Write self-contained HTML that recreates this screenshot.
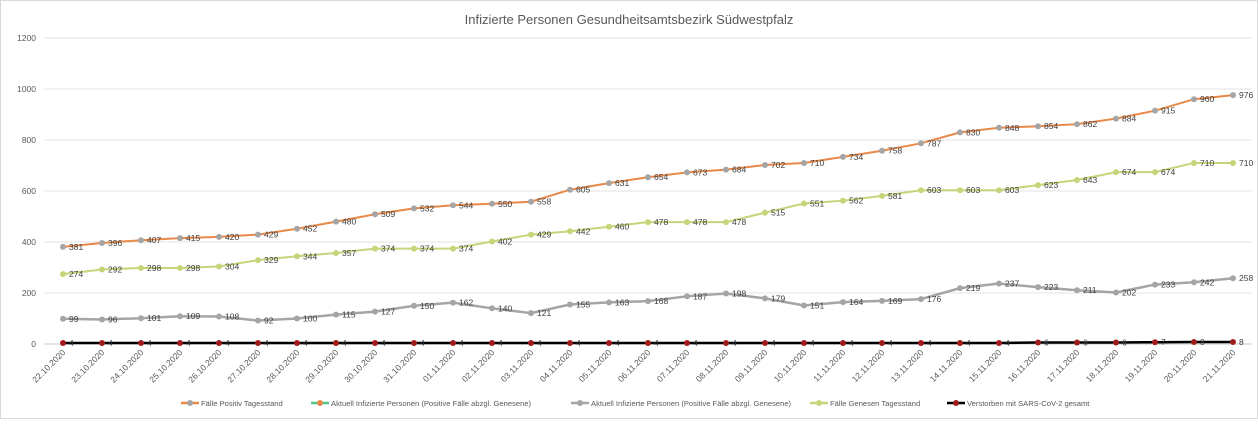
<!DOCTYPE html>
<html><head><meta charset="utf-8"><style>
body{margin:0;background:#fff;font-family:"Liberation Sans",sans-serif}
svg text{font-family:"Liberation Sans",sans-serif}
</style></head><body>
<svg id="c" width="1258" height="419">
<rect x="0.5" y="0.5" width="1257" height="418" fill="#fff" stroke="#d9d9d9"/>
<text x="629" y="24" text-anchor="middle" font-size="13" fill="#595959">Infizierte Personen Gesundheitsamtsbezirk Südwestpfalz</text>
<g id="grid"></g><g id="series"></g><g id="xl"></g>
<g id="legend" font-size="7.6" fill="#595959"></g>
</svg>
<script>
const dates=["22.10.2020","23.10.2020","24.10.2020","25.10.2020","26.10.2020","27.10.2020","28.10.2020","29.10.2020","30.10.2020","31.10.2020","01.11.2020","02.11.2020","03.11.2020","04.11.2020","05.11.2020","06.11.2020","07.11.2020","08.11.2020","09.11.2020","10.11.2020","11.11.2020","12.11.2020","13.11.2020","14.11.2020","15.11.2020","16.11.2020","17.11.2020","18.11.2020","19.11.2020","20.11.2020","21.11.2020"];
const positiv=[381,396,407,415,420,429,452,480,509,532,544,550,558,605,631,654,673,684,702,710,734,758,787,830,848,854,862,884,915,960,976];
const genesen=[274,292,298,298,304,329,344,357,374,374,374,402,429,442,460,478,478,478,515,551,562,581,603,603,603,623,643,674,674,710,710];
const aktuell=[99,96,101,109,108,92,100,115,127,150,162,140,121,155,163,168,187,198,179,151,164,169,176,219,237,223,211,202,233,242,258];
const verstorben=[4,4,4,4,4,4,4,4,4,4,4,4,4,4,4,4,4,4,4,4,4,4,4,4,4,6,6,6,7,8,8];
const yTicks=[0,200,400,600,800,1000,1200];
const NS="http://www.w3.org/2000/svg";
const X=i=>63+i*39, Y=v=>344-v*(306/1200);
function mk(p,t,a){const e=document.createElementNS(NS,t);for(const k in a)e.setAttribute(k,a[k]);p.appendChild(e);return e;}
const grid=document.getElementById('grid');
yTicks.forEach(v=>{
 const l=mk(grid,'line',{x1:44,x2:1252,y1:Y(v),y2:Y(v),stroke:v?'#e3e3e3':'#c8c8c8','stroke-width':1});
 
 
 const t=mk(grid,'text',{x:36,y:Y(v)+3,'text-anchor':'end','font-size':8.5,fill:'#595959'});t.textContent=v;
 
 
});
const xl=document.getElementById('xl');
dates.forEach((d,i)=>{
 const t=mk(xl,'text',{x:X(i)+3,y:353,'text-anchor':'end','font-size':8.5,fill:'#595959',transform:`rotate(-45 ${X(i)+3} 353)`});t.textContent=d;
 
 
});
const S=document.getElementById('series');
function series(vals,line,dot,name,w){
 const g=mk(S,'g',{});
 
 
 mk(g,'polyline',{points:vals.map((v,i)=>X(i)+','+Y(v)).join(' '),fill:'none',stroke:line,'stroke-width':w});
 vals.forEach((v,i)=>{
  const c=mk(g,'circle',{cx:X(i),cy:Y(v),r:3,fill:dot});
  
  
  const t=mk(g,'text',{x:X(i)+6,y:Y(v)+3,'font-size':8.5,fill:'#404040'});t.textContent=v;
  
  
 });
}
series(verstorben,'#000','#a01c1c','series-verstorben',2.5);
series(aktuell,'#a5a5a5','#a5a5a5','series-aktuell',2.5);
series(genesen,'#c5d67a','#c5d67a','series-genesen',2);
series(positiv,'#e8894a','#a5a5a5','series-positiv',2);
const L=document.getElementById('legend');
const items=[["Fälle Positiv Tagesstand",'#e8894a','#a5a5a5',181],["Aktuell Infizierte Personen (Positive Fälle abzgl. Genesene)",'#4ec98a','#e8894a',311],["Aktuell Infizierte Personen (Positive Fälle abzgl. Genesene)",'#a5a5a5','#a5a5a5',571],["Fälle Genesen Tagesstand",'#c5d67a','#c5d67a',810],["Verstorben mit SARS-CoV-2 gesamt",'#000','#a01c1c',947]];
items.forEach(([n,lc,dc,x])=>{
 const g=mk(L,'g',{});
 
 
 mk(g,'line',{x1:x,x2:x+18,y1:403,y2:403,stroke:lc,'stroke-width':2.5});
 mk(g,'circle',{cx:x+9,cy:403,r:3,fill:dc});
 const t=mk(g,'text',{x:x+20,y:406});t.textContent=n;
});
</script>
</body></html>
